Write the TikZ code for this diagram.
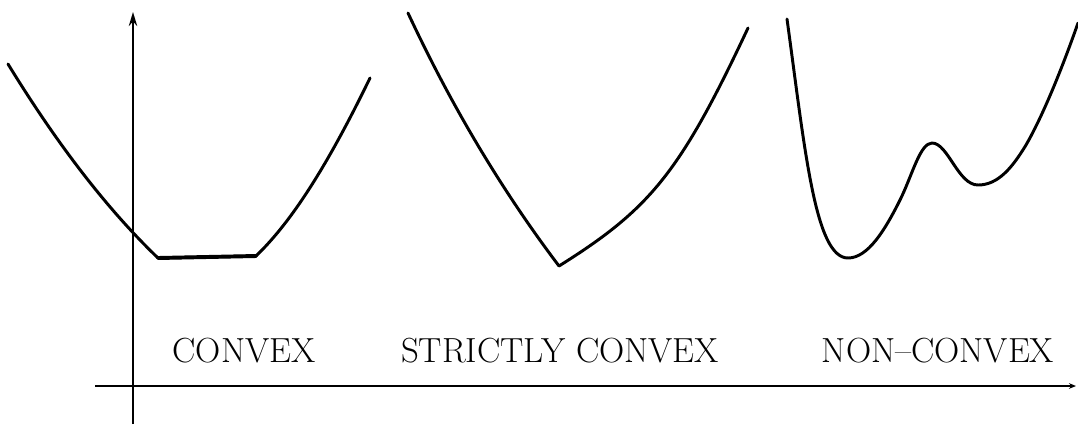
\documentclass[tikz,border=0pt]{standalone}
\usetikzlibrary{arrows.meta}
\begin{document}
\begin{tikzpicture}[x=0.025cm,y=-0.025cm,
  axis/.style={line width=1.3pt,black},
  curve/.style={line width=2.1pt,black,line join=round,line cap=round},
  lbl/.style={font=\fontsize{24.8}{30}\selectfont,anchor=base,inner sep=0pt}]
\useasboundingbox (0,0) rectangle (1078,424);
% axes
\coordinate (yb) at (133,424);
\coordinate (yt) at (133,12);
\coordinate (xl) at (95,386);
\coordinate (xr) at (1076,386);
\draw[axis,-{Stealth[length=10pt,width=6pt]}] (yb) -- (yt);
\draw[axis,-{Stealth[length=5pt,width=4pt]}] (xl) -- (xr);
% convex
\coordinate (a0) at (8,64);
\coordinate (a1) at (158,258);
\coordinate (a2) at (256,256);
\coordinate (a3) at (370,78);
\draw[curve] (a0) .. controls (57,144) and (107,209) .. (a1)
  -- (a2) .. controls (285,228) and (320,181) .. (a3);
\draw[line width=2.8pt,line cap=round] (a1) -- (a2);
% strictly convex
\coordinate (b0) at (408,13);
\coordinate (b1) at (559,266);
\coordinate (b2) at (748,28);
\draw[curve] (b0) .. controls (450,103) and (500,188) .. (b1)
  .. controls (650,209) and (680,173) .. (b2);
% non-convex
\coordinate (n0) at (787,19);
\coordinate (n1) at (848,258);
\coordinate (n2) at (900,200);
\coordinate (n3) at (932,143);
\coordinate (n4) at (978,185);
\coordinate (n5) at (1026,145);
\coordinate (n6) at (1078,23);
\draw[curve] (n0) .. controls (805,150) and (815,258) .. (n1)
  .. controls (868,258) and (885,230) .. (n2)
  .. controls (912,176) and (920,143) .. (n3)
  .. controls (948,143) and (958,185) .. (n4)
  .. controls (998,185) and (1012,168) .. (n5)
  .. controls (1045,112) and (1065,60) .. (n6);
% labels
\node[lbl] (c1) at (244,362) {CONVEX};
\node[lbl] (c2) at (560,362) {STRICTLY CONVEX};
\node[lbl] (c3) at (938,362) {NON--CONVEX};
\end{tikzpicture}
\end{document}
